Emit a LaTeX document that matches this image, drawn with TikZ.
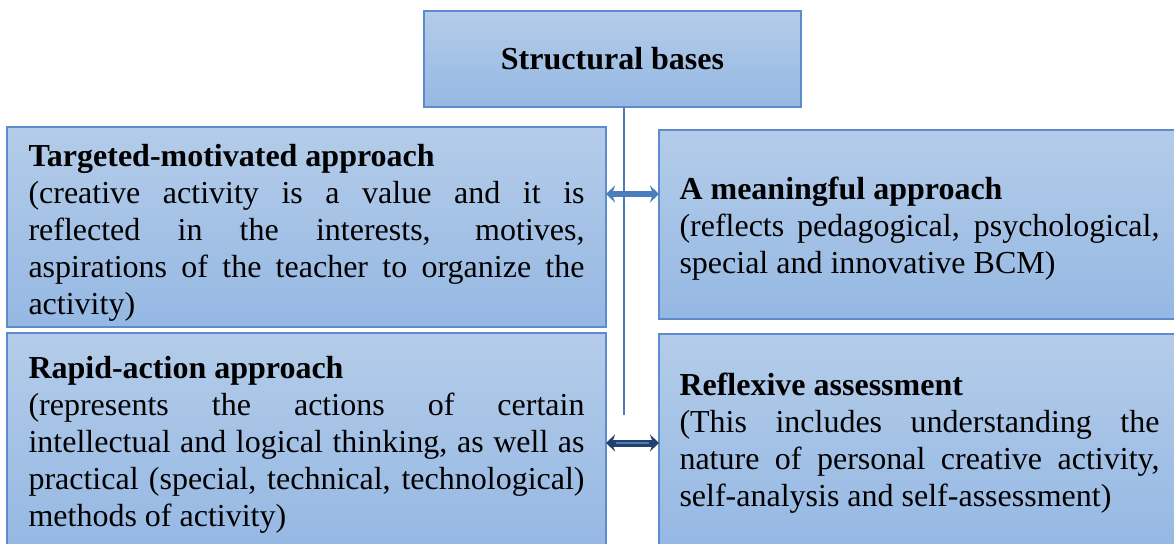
\documentclass[tikz,border=0pt]{standalone}
\usepackage{fontspec}
\setmainfont{Liberation Serif}
\usetikzlibrary{arrows.meta,calc}

\definecolor{boxtop}{HTML}{B4CCE9}
\definecolor{boxbot}{HTML}{95B8E3}
\definecolor{boxedge}{HTML}{5E8BCB}
\definecolor{linkblue}{HTML}{4A7EBB}
\definecolor{linknavy}{HTML}{24406E}

% heading line, raised by an invisible strut so the block sits lower in its box
\newcommand{\boxhead}[2]{\rule{0pt}{#1pt}\textbf{#2}}

\tikzset{
  basebox/.style={rectangle,draw=boxedge,line width=1.4pt,top color=boxtop,bottom color=boxbot,
    outer sep=0pt,anchor=north west,font=\fontsize{32}{37}\selectfont},
  sidebox/.style={basebox,align=justify,inner ysep=0pt},
  twoway/.style={line width=6pt,{Stealth[length=9pt,width=17pt]}-{Stealth[length=9pt,width=17pt]}}
}

\begin{document}
\begin{tikzpicture}[x=1pt,y=-1pt]
      \useasboundingbox (0,0) rectangle (1174,543);
      \node[basebox,minimum width=377pt,minimum height=96pt,font=\fontsize{32}{37}\selectfont\bfseries] (title) at (424,11) {Structural bases};
      % left column
      \node[sidebox,minimum width=599pt,minimum height=200pt,text width=556pt,inner xsep=21.5pt] (goal) at (7,127)
        {\boxhead{34}{Targeted-motivated approach}\\
         (creative activity is a value and it is\linebreak
         reflected in the interests, motives,\linebreak
         aspirations of the teacher to organize the\linebreak
         activity)};
      \node[sidebox,minimum width=599pt,minimum height=215pt,text width=556pt,inner xsep=21.5pt] (action) at (7,333)
        {\boxhead{31}{Rapid-action approach}\\
         (represents the actions of certain\linebreak
         intellectual and logical thinking, as well as\linebreak
         practical (special, technical, technological)\linebreak
         methods of activity)};
      % right column
      \node[sidebox,minimum width=521pt,minimum height=189pt,text width=480pt,inner xsep=20.5pt] (meaning) at (659,130)
        {\boxhead{30}{A meaningful approach}\\
         (reflects pedagogical, psychological,\linebreak
         special and innovative BCM)};
      \node[sidebox,minimum width=521pt,minimum height=214pt,text width=480pt,inner xsep=20.5pt] (reflex) at (659,334)
        {\boxhead{26}{Reflexive assessment}\\
         (This includes understanding the\linebreak
         nature of personal creative activity,\linebreak
         self-analysis and self-assessment)};
      % links between the columns
      \coordinate (ya) at (0,194);
      \coordinate (yb) at (0,443);
      \draw[twoway,linkblue] (goal.east |- ya) -- (meaning.west |- ya);
      \draw[twoway,linknavy,line width=7pt] (action.east |- yb) -- (reflex.west |- yb);
      \draw[linkblue,line width=2.6pt,shorten <=10pt,shorten >=10pt] (action.east |- yb) -- (reflex.west |- yb);
      \coordinate (spine) at (624,415);
      \draw[linkblue,line width=1.2pt] (title.south -| spine) -- (spine);
\end{tikzpicture}
\end{document}
